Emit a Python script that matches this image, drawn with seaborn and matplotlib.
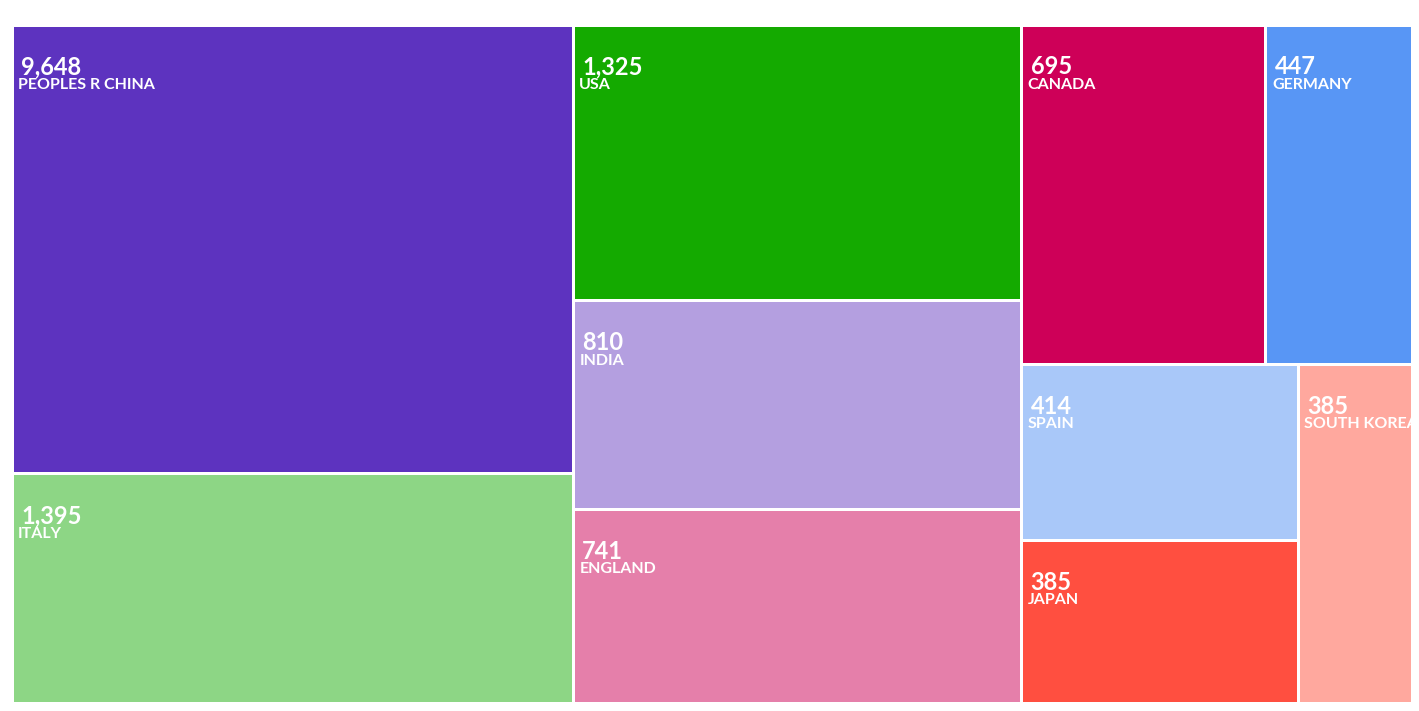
import matplotlib
matplotlib.use("Agg")
import matplotlib.pyplot as plt
import seaborn as sns
from matplotlib.patches import Rectangle

countries = ["PEOPLES R CHINA", "ITALY", "USA", "INDIA", "ENGLAND", "CANADA",
             "GERMANY", "SPAIN", "JAPAN", "SOUTH KOREA"]
counts = [9648, 1395, 1325, 810, 741, 695, 447, 414, 385, 385]
weights = [250500, 127800, 122900, 93000, 86300, 82300, 49200, 48400, 44700, 38400]
colors = ["#5D33BF", "#8DD685", "#14AA00", "#B49FE0", "#E57FAA", "#CE0058",
          "#5896F5", "#A9C8F9", "#FF4F40", "#FFA89E"]

W, H = 1400.0, 678.0


def squarify(values, x0, y0, x1, y1, ratio=(1 + 5 ** 0.5) / 2):
    out = [None] * len(values)
    n = len(values)
    value = float(sum(values))
    i0 = i1 = 0
    while i0 < n:
        dx, dy = x1 - x0, y1 - y0
        sumv = values[i1]; i1 += 1
        minv = maxv = sumv
        alpha = max(dy / dx, dx / dy) / (value * ratio)
        beta = sumv * sumv * alpha
        minr = max(maxv / beta, beta / minv)
        while i1 < n:
            v = values[i1]
            sumv += v
            minv = min(minv, v); maxv = max(maxv, v)
            beta = sumv * sumv * alpha
            nr = max(maxv / beta, beta / minv)
            if nr > minr:
                sumv -= v
                break
            minr = nr
            i1 += 1
        idx = list(range(i0, i1))
        if dx < dy:
            ny = y0 + dy * sumv / value
            x = x0
            for k in idx:
                w = dx * values[k] / sumv
                out[k] = (x, y0, w, ny - y0); x += w
            y0 = ny
        else:
            nx = x0 + dx * sumv / value
            y = y0
            for k in idx:
                h = dy * values[k] / sumv
                out[k] = (x0, y, nx - x0, h); y += h
            x0 = nx
        value -= sumv
        i0 = i1
    return out


sns.set_style("white")
plt.rcParams["font.family"] = ["Lato", "DejaVu Sans"]
fig = plt.figure(figsize=(14.19, 7.11), dpi=100)
ax = fig.add_axes([12 / 1419, 8 / 711, 1400 / 1419, 678 / 711])
ax.set_xlim(0, W)
ax.set_ylim(H, 0)
ax.axis("off")

rects = squarify(weights, 0, 0, W, H)
pad = 1.5
for (x, y, w, h), c, name, cnt in zip(rects, colors, countries, counts):
    ax.add_patch(Rectangle((x + pad, y + pad), w - 2 * pad, h - 2 * pad,
                           facecolor=c, edgecolor="none"))
    ax.text(x + 9, y + 42, f"{cnt:,}", color="white", fontsize=17,
            fontweight="bold", va="center", ha="left", clip_on=True)
    ax.text(x + 6, y + 60, name, color="white", fontsize=11.5,
            fontweight="bold", va="center", ha="left", clip_on=True)

fig.savefig("out.png", dpi=100, facecolor="white")
